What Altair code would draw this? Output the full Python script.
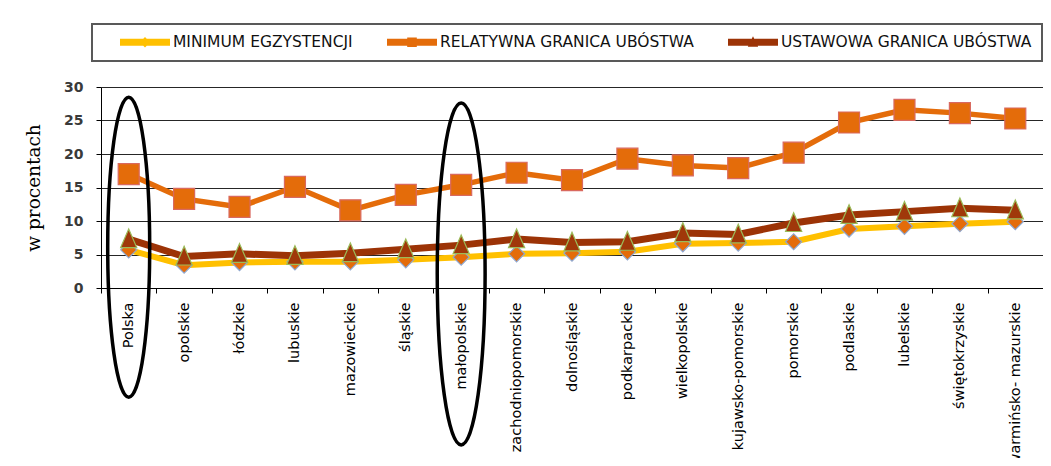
import altair as alt
import pandas as pd

regions = ["Polska", "opolskie", "łódzkie", "lubuskie", "mazowieckie", "śląskie",
           "małopolskie", "zachodniopomorskie", "dolnośląskie", "podkarpackie",
           "wielkopolskie", "kujawsko-pomorskie", "pomorskie", "podlaskie",
           "lubelskie", "świętokrzyskie", "warmińsko- mazurskie"]

minimum = [5.7, 3.4, 3.8, 3.9, 3.9, 4.2, 4.6, 5.1, 5.2, 5.4, 6.6, 6.7, 6.9, 8.8, 9.2, 9.6, 9.9]
relatywna = [17.0, 13.3, 12.1, 15.1, 11.6, 13.9, 15.4, 17.2, 16.1, 19.3, 18.3, 17.9, 20.2, 24.7, 26.6, 26.1, 25.3]
ustawowa = [7.3, 4.7, 5.1, 4.8, 5.2, 5.8, 6.4, 7.3, 6.8, 6.9, 8.2, 8.0, 9.7, 10.9, 11.4, 11.9, 11.6]

series_names = ["MINIMUM EGZYSTENCJI", "RELATYWNA GRANICA UBÓSTWA", "USTAWOWA GRANICA UBÓSTWA"]

highlight_regions = ["Polska", "małopolskie"]
highlight_mid = [6.1, 2.1]

rows = []
for name, vals in zip(series_names, [minimum, relatywna, ustawowa]):
    for r, v in zip(regions, vals):
        rows.append({"region": r, "series": name, "value": v})
df = pd.DataFrame(rows)
ell_df = pd.DataFrame({"region": highlight_regions, "value": highlight_mid})

line_colors = ["#FFC000", "#E46C0A", "#9C3306"]
line_widths = [6, 5.5, 7]
marker_shapes = ["diamond", "square", "M 0 -1.2 L 0.95 1 L -0.95 1 Z"]
marker_fills = ["#E46C0A", "#E46C0A", "#A0380A"]
marker_strokes = ["#8FA7CF", "#D9695F", "#9BBB59"]
marker_sizes = [256, 441, 289]

# legend symbols: bar + marker, shifted right of the symbol anchor
bar = "M 1.25 -0.45 L 7.5 -0.45 L 7.5 0.45 L 1.25 0.45 Z "
legend_paths = [
    bar + "M 4.375 -0.65 L 5.025 0 L 4.375 0.65 L 3.725 0 Z",
    bar + "M 3.775 -0.6 L 4.975 -0.6 L 4.975 0.6 L 3.775 0.6 Z",
    bar + "M 4.375 -0.75 L 5.025 0.55 L 3.725 0.55 Z",
]

x_enc = alt.X("region:N", sort=regions, bandPosition=0.5,
              scale=alt.Scale(type="band", paddingInner=0, paddingOuter=0),
              axis=alt.Axis(title=None, labelAngle=-90, labelFont="DejaVu Sans",
                            labelFontSize=14.5, labelColor="black", labelPadding=9,
                            tickSize=5, tickColor="black", domainColor="black",
                            tickBand="extent", grid=False, labelLimit=300,
                            labelOverlap=False))
y_enc = alt.Y("value:Q", scale=alt.Scale(domain=[0, 30], nice=False),
              axis=alt.Axis(values=[0, 5, 10, 15, 20, 25, 30], grid=True,
                            gridColor="#262626", gridWidth=1, domainColor="black",
                            tickColor="black", tickSize=5, labelFont="DejaVu Sans",
                            labelFontWeight="bold", labelFontSize=14,
                            labelColor="#3a3a3a", labelPadding=13, labelOverlap=False,
                            title="w procentach", titleFont="DejaVu Serif",
                            titleFontSize=18.5, titleFontWeight="normal",
                            titleColor="black", titlePadding=20))

base = alt.Chart(df)
layers = []
for i, name in enumerate(series_names):
    sub = base.transform_filter(alt.datum.series == name)
    layers.append(sub.mark_line(color=line_colors[i], strokeWidth=line_widths[i]).encode(x=x_enc, y=y_enc))
    layers.append(sub.mark_point(shape=marker_shapes[i], filled=True, fill=marker_fills[i],
                                 stroke=marker_strokes[i], strokeWidth=1.2, opacity=1,
                                 size=marker_sizes[i]).encode(x=x_enc, y=y_enc))

leg = alt.Legend(title=None, orient="none", legendX=-9, legendY=-63, direction="horizontal",
                 labelFont="DejaVu Sans", labelFontSize=15.5, labelColor="#111111",
                 labelOffset=55, labelLimit=400, columnPadding=16, padding=10,
                 symbolSize=256, symbolStrokeWidth=0, strokeColor="#595959")

legend_layer = base.transform_filter("false").mark_point(filled=True, opacity=1).encode(
    color=alt.Color("series:N", scale=alt.Scale(domain=series_names, range=line_colors), legend=leg),
    shape=alt.Shape("series:N", scale=alt.Scale(domain=series_names, range=legend_paths), legend=leg),
)

ellipse = alt.Chart(ell_df).mark_point(
    shape="M 0 -1 A 0.14 1 0 1 1 0 1 A 0.14 1 0 1 1 0 -1 Z",
    filled=False, stroke="black", strokeWidth=3.5, opacity=1
).encode(
    x=x_enc,
    y=y_enc,
    size=alt.condition(alt.datum.region == "Polska", alt.value(90000), alt.value(116964)),
)

chart = alt.layer(*layers, ellipse, legend_layer).properties(
    width=942, height=201,
    autosize=alt.AutoSizeParams(type="none"),
    padding={"left": 93, "top": 79, "right": 0, "bottom": 170},
).configure_view(stroke=None).configure_legend(strokeWidth=2)

chart.save("out.html", embed_options={"renderer": "svg", "actions": False})
